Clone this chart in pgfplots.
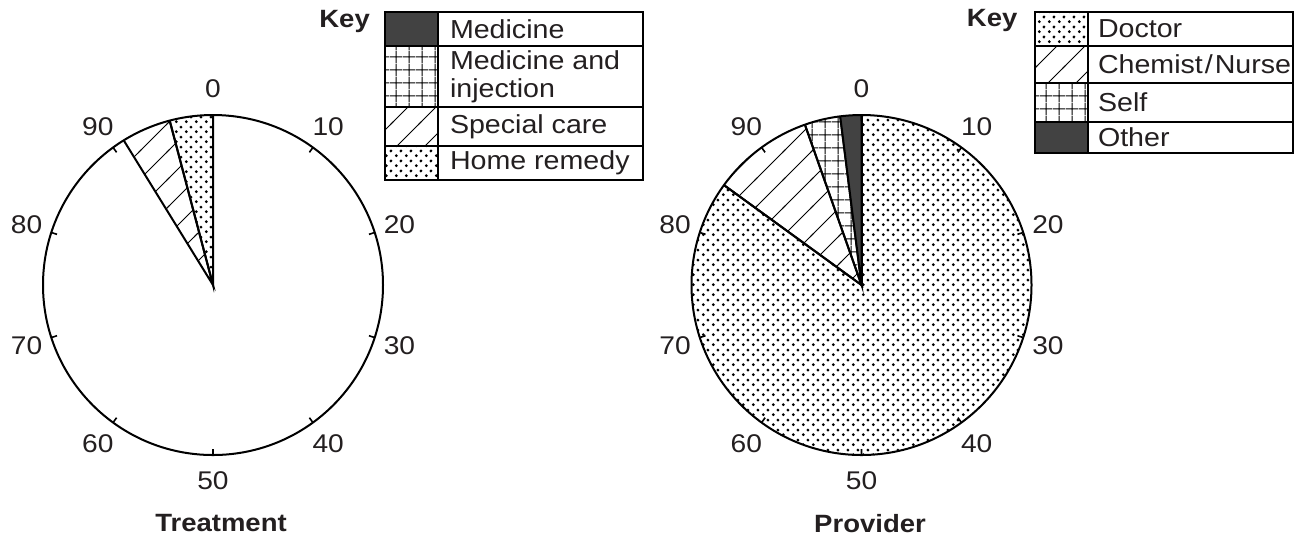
\documentclass[border=0pt]{standalone}
\usepackage{pgfplots}
\pgfplotsset{compat=1.18}
\usepgfplotslibrary{polar}
\usetikzlibrary{patterns.meta}
\usepackage{fontspec}
\setmainfont{Liberation Sans}[FakeStretch=1.1]
\definecolor{txt}{RGB}{35,31,32}
\definecolor{dark}{RGB}{66,66,66}

\pgfdeclarepattern{
  name=piedots, type=uncolored,
  bottom left={\pgfpoint{0pt}{0pt}}, top right={\pgfpoint{4.8pt}{4.8pt}},
  tile size={\pgfpoint{4.8pt}{4.8pt}},
  code={\pgfpathcircle{\pgfpoint{1.2pt}{1.2pt}}{0.8pt}
        \pgfpathcircle{\pgfpoint{3.6pt}{3.6pt}}{0.8pt}\pgfusepath{fill}}}
\pgfdeclarepattern{
  name=piegrid, type=uncolored,
  bottom left={\pgfpoint{0pt}{0pt}}, top right={\pgfpoint{6.5pt}{6.5pt}},
  tile size={\pgfpoint{6.5pt}{6.5pt}},
  code={\pgfsetlinewidth{0.5pt}
        \pgfpathmoveto{\pgfpoint{3.25pt}{-0.1pt}}\pgfpathlineto{\pgfpoint{3.25pt}{6.6pt}}
        \pgfpathmoveto{\pgfpoint{-0.1pt}{3.25pt}}\pgfpathlineto{\pgfpoint{6.6pt}{3.25pt}}
        \pgfusepath{stroke}}}
\pgfdeclarepattern{
  name=piehatch, type=uncolored,
  bottom left={\pgfpoint{-1pt}{-1pt}}, top right={\pgfpoint{15pt}{15pt}},
  tile size={\pgfpoint{14pt}{14pt}},
  code={\pgfsetlinewidth{0.5pt}
        \pgfpathmoveto{\pgfpoint{-1pt}{-1pt}}\pgfpathlineto{\pgfpoint{15pt}{15pt}}
        \pgfusepath{stroke}}}

% slices: percent boundaries (0 at top, clockwise), radius 2 is clipped to the rim
\pgfplotstableread{
p r
0 0
95.9 2
100 2
}\homeremedy
\pgfplotstableread{
p r
0 0
91.2 2
95.9 2
}\specialcare
\pgfplotstableread{
p r
0 0
98 2
100 2
}\other
\pgfplotstableread{
p r
0 0
94.6 2
98 2
}\self
\pgfplotstableread{
p r
0 0
85 2
94.6 2
}\chemist
\pgfplotstableread{
p r
0 0
0 2
25 2
50 2
75 2
85 2
}\doctor

\pgfplotsset{
  pie/.style={
    width=170pt, height=170pt, scale only axis,
    xmin=-270, xmax=90, ymin=0, ymax=1,
    xtick={-270,-234,-198,-162,-126,-90,-54,-18,18,54},
    xticklabels={0,90,80,70,60,50,40,30,20,10},
    ytick=\empty, grid=none,
    axis line style={line width=1pt, black},
    tick align=outside, major tick length=3pt,
    tick style={line width=0.8pt, black},
    xticklabel style={font=\fontsize{12.8pt}{14pt}\selectfont, text=txt,
      anchor=center, inner sep=0pt, shift={({\tick}:16pt)}},
    x filter/.expression={90-3.6*x},
    axis on top, clip=true,
    every axis plot/.append style={line width=1pt, draw=black, mark=none},
  }
}

\begin{document}
\begin{tikzpicture}
\begin{polaraxis}[pie, at={(106.5pt,-142.5pt)}, anchor=center]
  \addplot[pattern=piehatch] table[x=p,y=r] {\specialcare} -- cycle;
  \addplot[pattern=piedots] table[x=p,y=r] {\homeremedy} -- cycle;
\end{polaraxis}
\begin{polaraxis}[pie, at={(430.75pt,-142.5pt)}, anchor=center]
  \addplot[pattern=piedots] table[x=p,y=r] {\doctor} -- cycle;
  \addplot[pattern=piehatch] table[x=p,y=r] {\chemist} -- cycle;
  \addplot[pattern=piegrid] table[x=p,y=r] {\self} -- cycle;
  \addplot[fill=dark] table[x=p,y=r] {\other} -- cycle;
\end{polaraxis}

% titles
\node[font=\bfseries\fontsize{12.5pt}{14pt}\selectfont, text=txt] at (110.5pt,-261.75pt) {Treatment};
\node[font=\bfseries\fontsize{12.5pt}{14pt}\selectfont, text=txt] at (435pt,-261.75pt) {Provider};

% keys
\begin{scope}[line width=1pt, font=\fontsize{13pt}{14pt}\selectfont]
  \node[font=\bfseries\fontsize{12.5pt}{14pt}\selectfont, text=txt, anchor=east, inner sep=0pt] at (185.4pt,-10.5pt) {Key};
  \draw[fill=dark] (192.5pt,-6pt) rectangle (219pt,-23pt);
  \draw[pattern=piegrid] (192.5pt,-23pt) rectangle (219pt,-53.5pt);
  \draw[pattern=piehatch] (192.5pt,-53.5pt) rectangle (219pt,-73pt);
  \draw[pattern=piedots] (192.5pt,-73pt) rectangle (219pt,-90pt);
  \draw (219pt,-6pt) rectangle (321.5pt,-90pt);
  \draw (219pt,-23pt) -- (321.5pt,-23pt) (219pt,-53.5pt) -- (321.5pt,-53.5pt) (219pt,-73pt) -- (321.5pt,-73pt);
  \node[anchor=west, inner sep=0pt, text=txt] at (224.5pt,-14.5pt) {Medicine};
  \node[anchor=west, inner sep=0pt, text=txt, align=left] at (224.5pt,-38.25pt) {Medicine and\\injection};
  \node[anchor=west, inner sep=0pt, text=txt] at (224.5pt,-63.25pt) {Special care};
  \node[anchor=west, inner sep=0pt, text=txt] at (224.5pt,-81.5pt) {Home remedy};

  \node[font=\bfseries\fontsize{12.5pt}{14pt}\selectfont, text=txt, anchor=east, inner sep=0pt] at (509.2pt,-10pt) {Key};
  \draw[pattern=piedots] (517.5pt,-6pt) rectangle (544pt,-23pt);
  \draw[pattern=piehatch] (517.5pt,-23pt) rectangle (544pt,-41.5pt);
  \draw[pattern=piegrid] (517.5pt,-41.5pt) rectangle (544pt,-61pt);
  \draw[fill=dark] (517.5pt,-61pt) rectangle (544pt,-76.5pt);
  \draw (544pt,-6pt) rectangle (646.5pt,-76.5pt);
  \draw (544pt,-23pt) -- (646.5pt,-23pt) (544pt,-41.5pt) -- (646.5pt,-41.5pt) (544pt,-61pt) -- (646.5pt,-61pt);
  \node[anchor=west, inner sep=0pt, text=txt] at (548.5pt,-14.5pt) {Doctor};
  \node[anchor=west, inner sep=0pt, text=txt] at (548.5pt,-32.25pt) {Chemist\kern1pt/\kern1ptNurse};
  \node[anchor=west, inner sep=0pt, text=txt] at (548.5pt,-51.25pt) {Self};
  \node[anchor=west, inner sep=0pt, text=txt] at (548.5pt,-68.75pt) {Other};
\end{scope}

\pgfresetboundingbox
\path[use as bounding box] (0pt,0pt) rectangle (654.5pt,-271.5pt);
\end{tikzpicture}
\end{document}
